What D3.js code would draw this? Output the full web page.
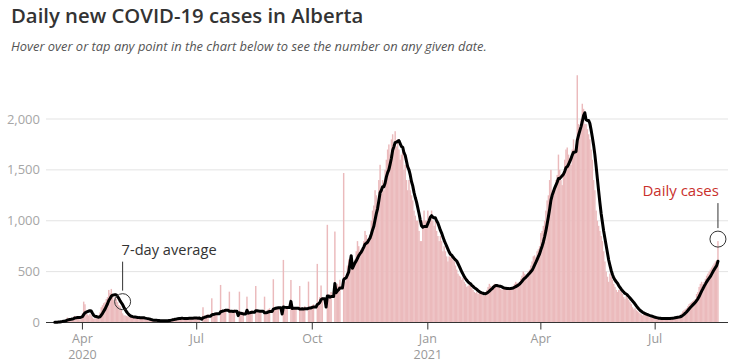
<!DOCTYPE html>
<html>
<head>
<meta charset="utf-8">
<script src="https://cdn.jsdelivr.net/npm/d3@7/dist/d3.min.js"></script>
<style>
  body { margin: 0; background: #fff; }
  svg { font-family: "Open Sans", sans-serif; }
</style>
</head>
<body>
<svg id="chart" width="733" height="364"></svg>
<script>
// daily new cases, one array per month (first one starts Mar 4 2020)
const mar20 = [0, 1, 1, 0, 2, 3, 6, 4, 5, 9, 10, 17, 17, 23, 22, 27, 49, 31, 33, 33, 43, 57, 65, 56, 56, 40, 29, 64];
const apr20 = [90, 205, 179, 100, 80, 69, 85, 70, 50, 37, 40, 60, 40, 70, 100, 150, 170, 190, 200, 230, 250, 320, 290, 330, 260, 220, 250, 230, 200, 170];
const may20 = [160, 130, 90, 70, 70, 65, 60, 58, 55, 50, 45, 48, 55, 52, 46, 40, 42, 45, 48, 50, 30, 28, 25, 22, 20, 24, 23, 18, 21, 19, 15];
const jun20 = [17, 14, 20, 16, 22, 18, 15, 19, 25, 30, 36, 42, 38, 40, 35, 45, 38, 42, 48, 36, 33, 40, 38, 46, 50, 42, 39, 44, 47, 41];
const jul20 = [45, 40, 55, 0, 0, 150, 60, 70, 75, 80, 0, 0, 238, 90, 85, 100, 92, 0, 0, 369, 110, 125, 120, 115, 0, 0, 303, 115, 120, 110, 127];
const aug20 = [0, 0, 0, 303, 90, 95, 105, 0, 0, 254, 100, 110, 115, 120, 0, 0, 359, 105, 100, 95, 110, 0, 0, 254, 110, 120, 130, 140, 0, 0, 425];
const sep20 = [140, 145, 150, 155, 0, 0, 0, 615, 130, 140, 150, 0, 0, 418, 130, 140, 150, 145, 0, 0, 359, 140, 150, 130, 160, 0, 0, 402, 150, 160];
const oct20 = [170, 180, 0, 0, 576, 200, 250, 364, 250, 0, 0, 0, 960, 250, 280, 300, 0, 0, 894, 320, 380, 360, 420, 0, 0, 1469, 400, 430, 560, 620, 570];
const nov20 = [550, 600, 580, 620, 700, 800, 750, 680, 720, 740, 800, 900, 860, 820, 830, 860, 1000, 1100, 1150, 1300, 1250, 1180, 1400, 1550, 1265, 1400, 1300, 1500, 1600, 1700];
const dec20 = [1750, 1650, 1800, 1850, 1750, 1880, 1730, 1800, 1700, 1600, 1650, 1700, 1500, 1550, 1400, 1300, 1400, 1300, 1250, 1200, 1100, 1050, 1000, 1000, 900, 800, 800, 1000, 1100, 1000, 1000];
const jan21 = [1100, 1000, 1050, 1100, 1000, 950, 1000, 900, 850, 800, 850, 800, 700, 750, 700, 650, 600, 650, 640, 640, 620, 600, 560, 520, 480, 460, 450, 420, 440, 400, 380];
const feb21 = [350, 360, 370, 360, 340, 320, 300, 290, 300, 280, 290, 300, 280, 270, 260, 300, 320, 350, 380, 360, 340, 360, 380, 370, 350, 360, 340, 330];
const mar21 = [320, 330, 340, 330, 350, 340, 320, 330, 340, 360, 380, 400, 390, 370, 400, 430, 460, 500, 480, 470, 460, 500, 520, 560, 600, 650, 660, 640, 700, 720, 750];
const apr21 = [880, 900, 950, 1000, 1100, 1200, 1250, 1400, 1500, 1300, 1250, 1350, 1400, 1450, 1650, 1500, 1400, 1350, 1450, 1600, 1700, 1720, 1650, 1600, 1550, 1700, 1800, 1700, 1750, 2430];
const may21 = [1950, 1850, 2000, 2150, 2100, 1950, 1950, 1900, 1850, 1800, 1700, 1600, 1400, 1300, 1100, 1000, 950, 900, 850, 800, 700, 600, 500, 450, 400, 480, 450, 420, 380, 350, 320];
const jun21 = [300, 320, 320, 300, 280, 250, 230, 260, 240, 220, 200, 180, 150, 130, 140, 120, 110, 100, 90, 80, 70, 85, 80, 70, 65, 55, 50, 45, 55, 48];
const jul21 = [40, 45, 35, 30, 38, 40, 45, 42, 40, 35, 33, 38, 46, 50, 55, 48, 52, 50, 55, 60, 75, 90, 110, 120, 130, 140, 160, 180, 190, 200, 210];
const aug21 = [220, 230, 280, 300, 350, 380, 400, 380, 400, 430, 460, 480, 500, 520, 540, 560, 580, 600, 610, 800];

const yTicks = [0, 500, 1000, 1500, 2000];
const xTicks = ["2020-04-01", "2020-07-01", "2020-10-01", "2021-01-01", "2021-04-01", "2021-07-01"];
const xTickLabels = [["Apr", "2020"], ["Jul"], ["Oct"], ["Jan", "2021"], ["Apr"], ["Jul"]];

const monthStarts = [
  ["2020-03-04", mar20], ["2020-04-01", apr20], ["2020-05-01", may20], ["2020-06-01", jun20],
  ["2020-07-01", jul20], ["2020-08-01", aug20], ["2020-09-01", sep20], ["2020-10-01", oct20],
  ["2020-11-01", nov20], ["2020-12-01", dec20], ["2021-01-01", jan21], ["2021-02-01", feb21],
  ["2021-03-01", mar21], ["2021-04-01", apr21], ["2021-05-01", may21], ["2021-06-01", jun21],
  ["2021-07-01", jul21], ["2021-08-01", aug21]
];

const parse = d3.utcParse("%Y-%m-%d");
const data = [];
monthStarts.forEach(([start, vals]) => {
  const d0 = parse(start);
  vals.forEach((v, i) => data.push({ date: d3.utcDay.offset(d0, i), value: v }));
});
// trailing 7-day average
data.forEach((d, i) => {
  if (i >= 6) d.avg = d3.mean(data.slice(i - 6, i + 1), e => e.value);
});
const avgData = data.filter(d => d.avg != null);

const svg = d3.select("#chart");
const left = 46, right = 728, base = 322.5;

const x = d3.scaleUtc()
  .domain([parse("2020-03-03"), parse("2021-08-28")])
  .range([left, right]);
const y = d3.scaleLinear().domain([0, 2000]).range([base, 119]);

// title
svg.append("text").attr("x", 11).attr("y", 23)
  .attr("font-size", 20.3).attr("font-weight", 600).attr("fill", "#333")
  .text("Daily new COVID-19 cases in Alberta");
svg.append("text").attr("x", 11).attr("y", 51)
  .attr("font-size", 12.9).attr("font-style", "italic").attr("fill", "#555")
  .text("Hover over or tap any point in the chart below to see the number on any given date.");

// grid
svg.append("g").selectAll("line").data(yTicks.filter(t => t > 0)).enter().append("line")
  .attr("x1", left).attr("x2", right)
  .attr("y1", d => y(d)).attr("y2", d => y(d))
  .attr("stroke", "#e3e3e3").attr("stroke-width", 1);

svg.append("g").selectAll("text").data(yTicks).enter().append("text")
  .attr("x", 40).attr("y", d => y(d) + 4.5)
  .attr("text-anchor", "end").attr("font-size", 13).attr("fill", "#a6a6a6")
  .text(d => d3.format(",")(d));

// bars
const bw = 1.45;
svg.append("g").selectAll("rect").data(data.filter(d => d.value > 0)).enter().append("rect")
  .attr("x", d => x(d.date) - bw / 2)
  .attr("width", bw)
  .attr("y", d => y(d.value))
  .attr("height", d => base - y(d.value))
  .attr("fill", "#ebbabc");

// axis
svg.append("line").attr("x1", left).attr("x2", right).attr("y1", base).attr("y2", base)
  .attr("stroke", "#333").attr("stroke-width", 1.2);
const tk = svg.append("g").selectAll("g").data(xTicks).enter().append("g")
  .attr("transform", d => "translate(" + x(parse(d)) + ",0)");
tk.append("line").attr("y1", base).attr("y2", base + 7).attr("stroke", "#333");
tk.append("text").attr("y", 343).attr("text-anchor", "middle").attr("font-size", 12.5).attr("fill", "#999")
  .text((d, i) => xTickLabels[i][0]);
tk.append("text").attr("y", 359).attr("text-anchor", "middle").attr("font-size", 12.5).attr("fill", "#999")
  .text((d, i) => xTickLabels[i][1] || "");

// 7-day average line
svg.append("path").datum(avgData)
  .attr("fill", "none").attr("stroke", "#000").attr("stroke-width", 3)
  .attr("stroke-linejoin", "round").attr("stroke-linecap", "round")
  .attr("d", d3.line().x(d => x(d.date)).y(d => y(d.avg)));

// annotations
const avgNote = { date: parse("2020-05-03"), value: 205 };
const ax = x(avgNote.date), ay = y(avgNote.value);
svg.append("circle").attr("cx", ax).attr("cy", ay).attr("r", 8)
  .attr("fill", "none").attr("stroke", "#333").attr("stroke-width", 1);
svg.append("line").attr("x1", ax).attr("x2", ax).attr("y1", ay - 40).attr("y2", ay - 11)
  .attr("stroke", "#333");
svg.append("text").attr("x", ax - 1).attr("y", ay - 47)
  .attr("font-size", 14.6).attr("fill", "#333").text("7-day average");

const last = data[data.length - 1];
const lx = x(last.date), ly = y(last.value) - 2;
svg.append("circle").attr("cx", lx).attr("cy", ly).attr("r", 8)
  .attr("fill", "none").attr("stroke", "#333").attr("stroke-width", 1);
svg.append("line").attr("x1", lx).attr("x2", lx).attr("y1", ly - 36).attr("y2", ly - 11)
  .attr("stroke", "#333");
svg.append("text").attr("x", lx + 1).attr("y", ly - 43).attr("text-anchor", "end")
  .attr("font-size", 15).attr("font-weight", 500).attr("fill", "#c9302c").text("Daily cases");
</script>
</body>
</html>
